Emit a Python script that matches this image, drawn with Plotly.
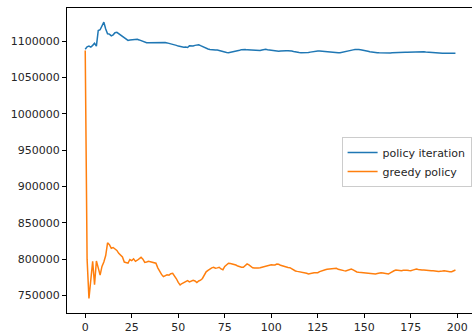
import plotly.graph_objects as go

steps = list(range(200))

policy_iteration = [
    1088600, 1092000, 1093000, 1091500, 1094000, 1096800, 1093000, 1114500, 1115500, 1120000,
    1126000, 1116500, 1110000, 1109500, 1107000, 1108500, 1111500, 1112000, 1110000, 1108800,
    1106500, 1105200, 1102500, 1100800, 1101400, 1101600, 1102000, 1102300, 1102300, 1101500,
    1100400, 1099000, 1098000, 1097700, 1097600, 1097700, 1097900, 1098000, 1097800, 1098200,
    1097800, 1097500, 1097700, 1097800, 1097400, 1096800, 1096300, 1095900, 1095000, 1094000,
    1093000, 1092200, 1091800, 1091300, 1091700, 1091000, 1093300, 1093100, 1093100, 1094000,
    1094700, 1094900, 1093600, 1092200, 1090800, 1089600, 1089000, 1088300, 1087800, 1087600,
    1087600, 1087600, 1086800, 1085600, 1085000, 1084500, 1084100, 1083900, 1084300, 1084800,
    1085500, 1086200, 1086700, 1087400, 1088100, 1088600, 1088200, 1087800, 1087600, 1087400,
    1087200, 1087000, 1086800, 1086700, 1086900, 1087500, 1088100, 1088600, 1088000, 1087600,
    1086900, 1086200, 1085600, 1085300, 1085800, 1086300, 1086700, 1086700, 1086600, 1086700,
    1086700, 1086200, 1085600, 1084900, 1084600, 1084300, 1084000, 1083800, 1083600, 1083500,
    1084100, 1084700, 1085300, 1085600, 1085900, 1086200, 1086200, 1085900, 1085500, 1085200,
    1084900, 1084900, 1084700, 1084400, 1084100, 1083900, 1083900, 1083900, 1084600, 1085300,
    1085900, 1086200, 1086700, 1087200, 1087800, 1088300, 1088600, 1088300, 1087900, 1087600,
    1087000, 1086400, 1085800, 1085100, 1084600, 1084400, 1084200, 1084000, 1083800, 1083600,
    1083400, 1083200, 1083100, 1083300, 1083500, 1083800, 1084000, 1084300, 1084500, 1084500,
    1084400, 1084600, 1084500, 1084400, 1084500, 1084700, 1085000, 1085300, 1085600, 1085800,
    1085800, 1085500, 1085200, 1084900, 1084600, 1084500, 1084200, 1083900, 1083600, 1083300,
    1083100, 1083100, 1083200, 1083100, 1083100, 1083100, 1083000, 1083100, 1083100, 1083100,
]

greedy_policy = [
    1087000, 800000, 746000, 770000, 797000, 765000, 797500, 788000, 778000, 790000,
    796000, 805000, 822500, 820000, 815000, 816000, 814000, 812000, 808000, 805000,
    803000, 796000, 795000, 794500, 799500, 798000, 800500, 797000, 798500, 800000,
    802500, 800000, 795500, 796000, 797000, 796500, 796000, 795500, 794500, 788000,
    783000, 779000, 776000, 777500, 778500, 778000, 780000, 780500, 777000, 773000,
    768000, 764500, 766500, 767500, 769000, 770500, 768800, 769500, 771000, 770000,
    767800, 770000, 771000, 773500, 778000, 782500, 784500, 786500, 788000, 788800,
    787500, 788000, 788800, 786500, 785500, 790000, 792500, 794300, 794000, 793400,
    792800, 791900, 790500, 789500, 789000, 788800, 790800, 793500, 792000, 789800,
    788200, 787700, 787400, 787800, 788200, 789000, 790200, 790800, 791000, 791700,
    792400, 792100, 791900, 793200, 793000, 791500, 790500, 789500, 789000, 788600,
    788300, 786800, 784800, 783800, 783200, 782800, 782300, 781800, 781400, 780600,
    779600, 780500, 781400, 781400, 781300, 781400, 782800, 784000, 785100, 785500,
    786000, 786100, 786500, 786900, 787200, 787400, 786000, 785100, 784600, 784200,
    783700, 784500, 785500, 786500, 785200, 783600, 782400, 782000, 781700, 781400,
    781200, 781000, 780800, 780600, 780300, 779900, 779600, 780200, 781000, 781400,
    781000, 780600, 780100, 779600, 781000, 782800, 784000, 785100, 784700, 784300,
    784100, 784600, 785100, 784800, 784400, 784100, 784900, 785800, 786500, 785800,
    785100, 785100, 785100, 784600, 784100, 783700, 783900, 784000, 784100, 783500,
    783000, 782800, 783600, 784100, 783500, 782800, 782800, 782800, 783500, 785100,
]

series_names = ["policy iteration", "greedy policy"]
series_colors = ["#1f77b4", "#ff7f0e"]
x_ticks = [0, 25, 50, 75, 100, 125, 150, 175, 200]
y_ticks = [750000, 800000, 850000, 900000, 950000, 1000000, 1050000, 1100000]

fig = go.Figure()
for name, vals, col in zip(series_names, [policy_iteration, greedy_policy], series_colors):
    fig.add_trace(go.Scatter(x=steps, y=vals, mode="lines", name=name,
                             line=dict(color=col, width=1.5)))

font = dict(family="DejaVu Sans", size=11, color="#262626")
fig.update_layout(
    width=472, height=333,
    margin=dict(l=67, r=0, t=8, b=20),
    plot_bgcolor="white", paper_bgcolor="white",
    font=font,
    showlegend=True,
    legend=dict(x=0.999, y=0.577, xanchor="right", yanchor="top",
                bgcolor="rgba(255,255,255,0.8)", bordercolor="#cccccc", borderwidth=1,
                font=dict(family="DejaVu Sans", size=11, color="#262626"),
                itemwidth=30, tracegroupgap=0),
)
fig.update_xaxes(range=[-9.8, 207.9], tickvals=x_ticks, ticktext=[str(v) for v in x_ticks],
                 showgrid=False, zeroline=False, showline=True, linecolor="black", linewidth=1,
                 mirror=True, ticks="outside", ticklen=4, tickcolor="black", automargin=False)
fig.update_yaxes(range=[725940, 1145380], tickvals=y_ticks, ticktext=[str(v) for v in y_ticks],
                 showgrid=False, zeroline=False, showline=True, linecolor="black", linewidth=1,
                 mirror=False, ticks="outside", ticklen=4, tickcolor="black", automargin=False)

fig.write_html("out.html", config={"displayModeBar": False},
               post_script="document.body.style.margin='0px';document.body.style.overflow='hidden';")
